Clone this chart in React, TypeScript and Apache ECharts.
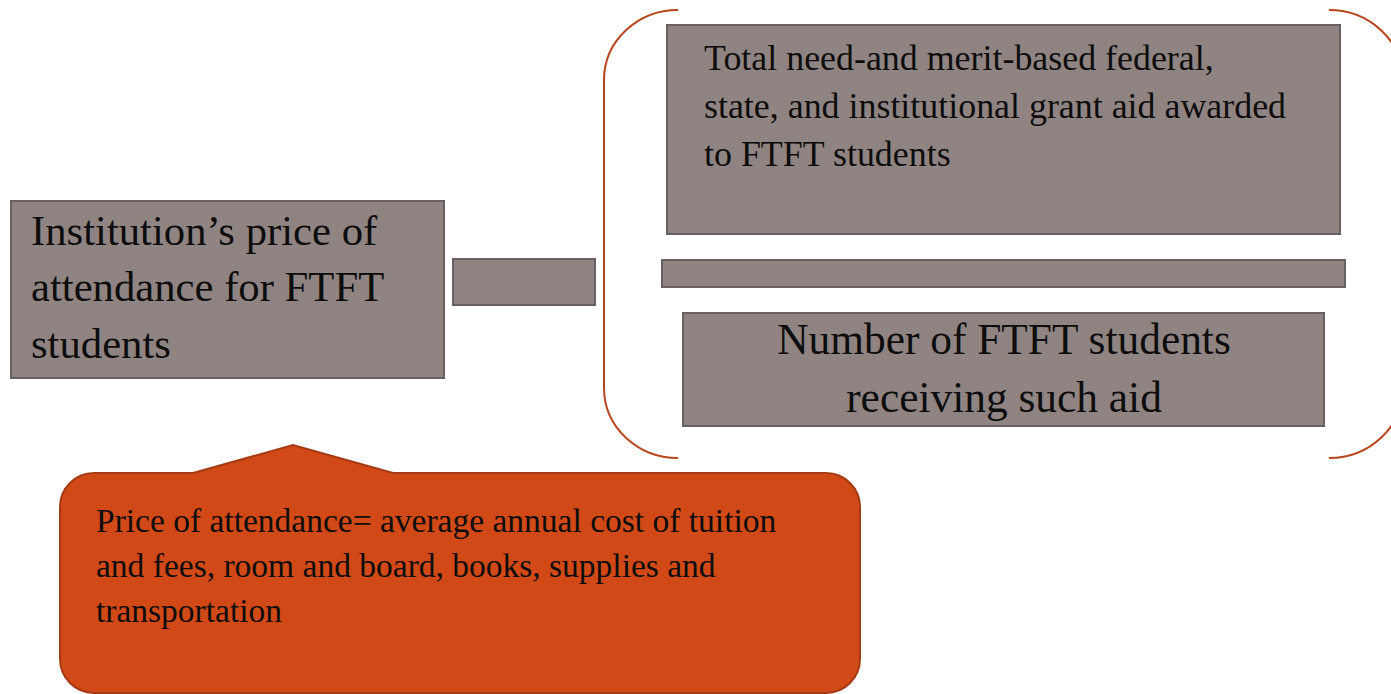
import React, { useEffect, useRef } from "react";
import * as echarts from "echarts";

const priceLines = ["Institution’s price of", "attendance for FTFT", "students"];
const aidLines = [
  "Total need-and merit-based federal,",
  "state, and institutional grant aid awarded",
  "to FTFT students",
];
const countLines = ["Number of FTFT students", "receiving such aid"];
const noteLines = [
  "Price of attendance= average annual cost of tuition",
  "and fees, room and board, books, supplies and",
  "transportation",
];

const FONT = "'Liberation Serif', 'DejaVu Serif', serif";
const BOX_FILL = "#8F8482";
const BOX_STROKE = "#6A5F62";
const BRACE = "#B9461D";
const NOTE_FILL = "#D04916";
const NOTE_STROKE = "#A53B14";

const bracePathL =
  "M678 10 C637.1 10 604 41.3 604 80 L604 388 C604 426.7 637.1 458 678 458";
const bracePathR =
  "M1329 10 C1369.9 10 1403 41.3 1403 80 L1403 388 C1403 426.7 1369.9 458 1329 458";
const calloutPath =
  "M94 473 L193 473 L293 445 L393 473 L826 473 C844.8 473 860 488.2 860 507 L860 659 C860 677.8 844.8 693 826 693 L94 693 C75.2 693 60 677.8 60 659 L60 507 C60 488.2 75.2 473 94 473 Z";

echarts.graphic.registerShape("braceL", echarts.graphic.extendPath(bracePathL, {}));
echarts.graphic.registerShape("braceR", echarts.graphic.extendPath(bracePathR, {}));
echarts.graphic.registerShape("callout", echarts.graphic.extendPath(calloutPath, {}));

function box(x: number, y: number, w: number, h: number) {
  return {
    type: "rect",
    shape: { x, y, width: w, height: h },
    style: { fill: BOX_FILL, stroke: BOX_STROKE, lineWidth: 2 },
  };
}

function textLines(
  lines: string[],
  x: number,
  firstBaseline: number,
  lineGap: number,
  size: number,
  align: string
) {
  return lines.map((t, i) => ({
    type: "text",
    x,
    y: firstBaseline + i * lineGap - size * 0.34,
    style: {
      text: t,
      fill: "#0d0d0d",
      font: `${size}px ${FONT}`,
      align,
      verticalAlign: "middle",
    },
  }));
}

export default function App() {
  const ref = useRef<HTMLDivElement>(null);
  useEffect(() => {
    document.body.style.margin = "0";
    const chart = echarts.init(ref.current!, null, { renderer: "svg" });
    const elements: any[] = [
      { type: "braceL", x: 0, y: 0, style: { fill: "none", stroke: BRACE, lineWidth: 2 } },
      { type: "braceR", x: 0, y: 0, style: { fill: "none", stroke: BRACE, lineWidth: 2 } },
      box(11, 201, 433, 177),
      box(453, 259, 142, 46),
      box(667, 25, 673, 209),
      box(662, 260, 683, 27),
      box(683, 313, 641, 113),
      {
        type: "callout",
        x: 0,
        y: 0,
        style: { fill: NOTE_FILL, stroke: NOTE_STROKE, lineWidth: 2 },
      },
      ...textLines(priceLines, 31, 245, 56.5, 42.7, "left"),
      ...textLines(aidLines, 704, 70, 48, 35.9, "left"),
      ...textLines(countLines, 1004, 354, 58, 43.4, "center"),
      ...textLines(noteLines, 96, 532, 45, 33.5, "left"),
    ];
    chart.setOption({ animation: false, graphic: elements });
    return () => chart.dispose();
  }, []);
  return <div ref={ref} style={{ width: 1391, height: 694 }} />;
}
